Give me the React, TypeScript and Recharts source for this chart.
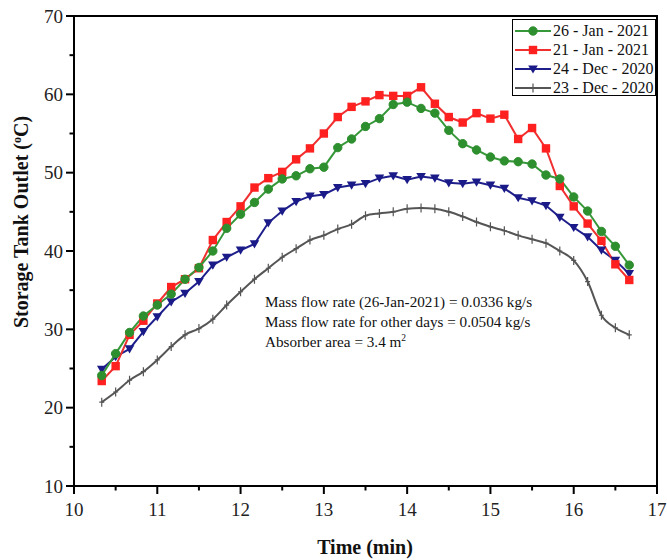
import { LineChart, Line, XAxis, YAxis, ReferenceArea } from "recharts";

const times = [
  10.333, 10.5, 10.667, 10.833, 11, 11.167, 11.333, 11.5, 11.667, 11.833, 12, 12.167, 12.333,
  12.5, 12.667, 12.833, 13, 13.167, 13.333, 13.5, 13.667, 13.833, 14, 14.167, 14.333, 14.5,
  14.667, 14.833, 15, 15.167, 15.333, 15.5, 15.667, 15.833, 16, 16.167, 16.333, 16.5, 16.667,
];

const jan26 = [
  24.1, 26.9, 29.6, 31.7, 33.1, 34.5, 36.4, 37.9, 40.0, 42.9, 44.7, 46.2, 47.9, 49.2, 49.6, 50.5,
  50.7, 53.2, 54.3, 55.9, 56.9, 58.7, 59.0, 58.2, 57.6, 55.4, 53.7, 52.9, 52.0, 51.5, 51.4, 51.1,
  49.7, 49.2, 46.9, 45.1, 42.5, 40.6, 38.2,
];
const jan21 = [
  23.4, 25.3, 29.3, 31.1, 33.3, 35.4, 36.4, 37.8, 41.4, 43.7, 45.7, 48.1, 49.3, 50.1, 51.7, 53.1,
  55.0, 57.1, 58.4, 59.1, 59.9, 59.8, 59.8, 60.9, 58.8, 57.1, 56.4, 57.6, 56.9, 57.4, 54.3, 55.7,
  53.1, 48.3, 45.7, 43.5, 41.3, 38.3, 36.3,
];
const dec24 = [
  24.9, 26.5, 27.5, 29.7, 31.6, 33.5, 34.6, 36.1, 38.2, 39.2, 40.1, 40.9, 43.6, 45.1, 46.3, 47.0,
  47.2, 48.1, 48.4, 48.6, 49.3, 49.6, 49.1, 49.5, 49.3, 48.7, 48.6, 48.8, 48.4, 48.0, 46.8, 46.4,
  45.8, 44.3, 43.0, 41.8, 40.1, 38.8, 37.1,
];
const dec23 = [
  20.7, 22.0, 23.5, 24.6, 26.1, 27.8, 29.3, 30.1, 31.3, 33.1, 34.8, 36.4, 37.8, 39.2, 40.3, 41.4,
  42.0, 42.8, 43.4, 44.5, 44.8, 45.0, 45.4, 45.5, 45.4, 45.0, 44.4, 43.7, 43.1, 42.6, 42.0, 41.5,
  41.0, 40.0, 38.8, 36.1, 31.8, 30.2, 29.3,
];

const xTicks = [10, 10.5, 11, 11.5, 12, 12.5, 13, 13.5, 14, 14.5, 15, 15.5, 16, 16.5, 17];
const yTicks = [10, 15, 20, 25, 30, 35, 40, 45, 50, 55, 60, 65, 70];

const rows = times.map((t, i) => ({ t, jan26: jan26[i], jan21: jan21[i], dec24: dec24[i], dec23: dec23[i] }));

const FONT = '"Liberation Serif", "Times New Roman", serif';
const GREEN = "#37983a";
const RED = "#f03030";
const BLUE = "#1f1f8c";
const GRAY = "#555555";

type Mk = { cx?: number; cy?: number; index?: number };

function Circle({ cx = 0, cy = 0 }: Mk) {
  return <circle cx={cx} cy={cy} r={4.2} fill="#2e8f2e" stroke="#2e8f2e" />;
}
function Square({ cx = 0, cy = 0 }: Mk) {
  return <rect x={cx - 4.2} y={cy - 4.2} width={8.4} height={8.4} fill="#ff2020" />;
}
function Tri({ cx = 0, cy = 0 }: Mk) {
  return <path d={`M${cx - 4.8},${cy - 3.6}L${cx + 4.8},${cy - 3.6}L${cx},${cy + 4.6}Z`} fill="#1a1a88" />;
}
function Plus({ cx = 0, cy = 0 }: Mk) {
  return <path d={`M${cx},${cy - 4.5}V${cy + 4.5}M${cx - 2.5},${cy}H${cx + 2.5}`} stroke={GRAY} strokeWidth={1.2} fill="none" />;
}

const series = [
  { key: "jan26", name: "26 - Jan - 2021", color: GREEN, Marker: Circle },
  { key: "jan21", name: "21 - Jan - 2021", color: RED, Marker: Square },
  { key: "dec24", name: "24 - Dec - 2020", color: BLUE, Marker: Tri },
  { key: "dec23", name: "23 - Dec - 2020", color: GRAY, Marker: Plus },
];

function XTick({ x = 0, y = 0, payload }: { x?: number; y?: number; payload?: { value: number } }) {
  const v = payload?.value ?? 0;
  const major = Number.isInteger(v);
  return (
    <g>
      <line x1={x} x2={x} y1={y} y2={y + (major ? 8 : 4.5)} stroke="#000" strokeWidth={2} />
      {major && (
        <text x={x} y={y + 30} textAnchor="middle" fontSize={19} fontFamily={FONT} fill="#222">
          {v}
        </text>
      )}
    </g>
  );
}

function YTick({ x = 0, y = 0, payload }: { x?: number; y?: number; payload?: { value: number } }) {
  const v = payload?.value ?? 0;
  const major = v % 10 === 0;
  return (
    <g>
      <line x1={x - (major ? 8 : 4.5)} x2={x} y1={y} y2={y} stroke="#000" strokeWidth={2} />
      {major && (
        <text x={x - 11} y={y + 6.5} textAnchor="end" fontSize={19} fontFamily={FONT} fill="#222">
          {v}
        </text>
      )}
    </g>
  );
}

export default function App() {
  return (
    <div style={{ position: "absolute", left: 0, top: 0, width: 667, height: 560, background: "#fff", fontFamily: FONT }}>
      <LineChart width={667} height={560} data={rows} margin={{ top: 16, right: 10, bottom: 0, left: 0 }}>
        <XAxis
          dataKey="t"
          type="number"
          domain={[10, 17]}
          ticks={xTicks}
          interval={0}
          height={74}
          tickSize={0}
          tickMargin={0}
          tickLine={false}
          axisLine={{ stroke: "#000", strokeWidth: 2 }}
          tick={<XTick />}
        />
        <YAxis
          type="number"
          domain={[10, 70]}
          ticks={yTicks}
          interval={0}
          width={74}
          tickSize={0}
          tickMargin={0}
          tickLine={false}
          axisLine={{ stroke: "#000", strokeWidth: 2 }}
          tick={<YTick />}
        />
        <ReferenceArea x1={10} x2={17} y1={10} y2={70} fill="none" stroke="#000" strokeWidth={2} />
        {series.slice().reverse().map((s) => (
          <Line
            key={s.key}
            dataKey={s.key}
            type={s.key === "dec23" ? "monotone" : "linear"}
            stroke={s.color}
            strokeWidth={2}
            dot={(p: Mk) => <s.Marker key={`${s.key}-${p.index}`} cx={p.cx} cy={p.cy} />}
            activeDot={false}
            isAnimationActive={false}
          />
        ))}
      </LineChart>

      <svg width={60} height={560} style={{ position: "absolute", left: 0, top: 0 }}>
        <text
          transform="translate(28,222) rotate(-90)"
          textAnchor="middle"
          fontSize={20}
          fontWeight="bold"
          fontFamily={FONT}
          fill="#111"
        >
          Storage Tank Outlet (<tspan dy={-7} fontSize={12}>o</tspan>
          <tspan dy={7}>C)</tspan>
        </text>
      </svg>
      <div
        style={{
          position: "absolute",
          left: 265,
          top: 536,
          width: 200,
          textAlign: "center",
          fontSize: 20,
          fontWeight: "bold",
          color: "#111",
          lineHeight: "22px",
        }}
      >
        Time (min)
      </div>

      <div
        style={{
          position: "absolute",
          left: 512,
          top: 19,
          width: 144,
          height: 77,
          border: "1px solid #000",
          boxSizing: "border-box",
          background: "#fff",
          paddingTop: 1,
        }}
      >
        {series.map((s) => (
          <div key={s.key} style={{ display: "flex", alignItems: "center", height: 19, fontSize: 16, color: "#111" }}>
            <svg width={40} height={14} style={{ flex: "none" }}>
              <line x1={2} x2={38} y1={7} y2={7} stroke={s.color} strokeWidth={2} />
              <s.Marker cx={20} cy={7} />
            </svg>
            <span style={{ whiteSpace: "nowrap" }}>{s.name}</span>
          </div>
        ))}
      </div>

      <div style={{ position: "absolute", left: 265, top: 292, fontSize: 15.2, lineHeight: "20px", color: "#111" }}>
        <div>Mass flow rate (26-Jan-2021) = 0.0336 kg/s</div>
        <div>Mass flow rate for other days = 0.0504 kg/s</div>
        <div>
          Absorber area = 3.4 m<sup style={{ fontSize: 9.5, lineHeight: 0 }}>2</sup>
        </div>
      </div>
    </div>
  );
}
